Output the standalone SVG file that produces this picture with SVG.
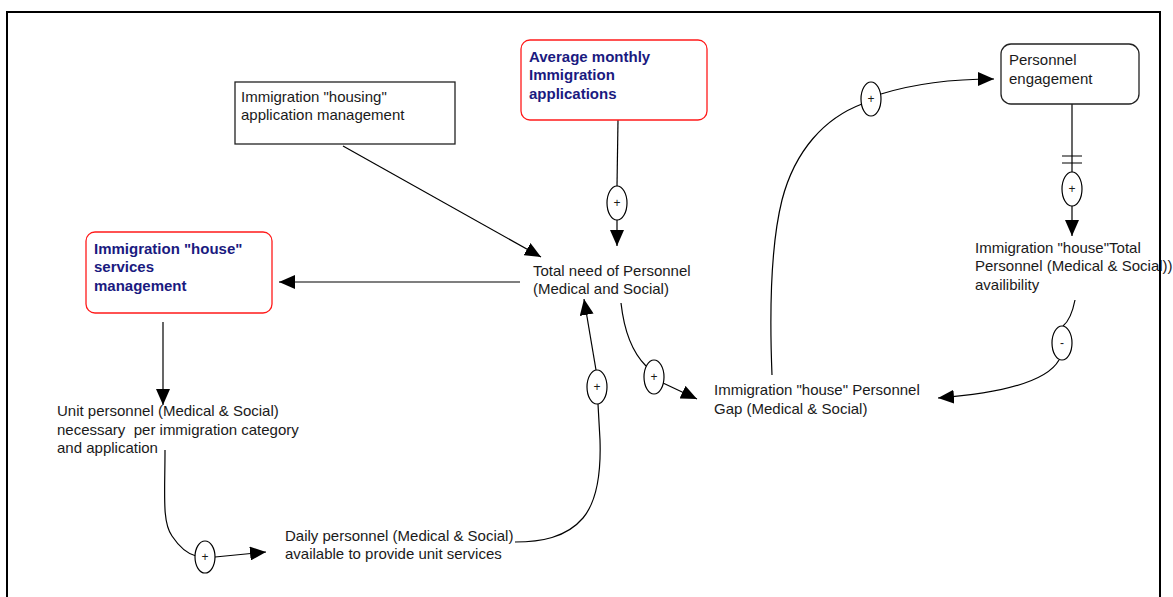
<svg xmlns="http://www.w3.org/2000/svg" width="1173" height="597" viewBox="0 0 1173 597">
<style>
.t{font-family:"Liberation Sans",Arial,sans-serif;font-size:15px;fill:#1a1a1a;white-space:pre}
.b{font-family:"Liberation Sans",Arial,sans-serif;font-size:15px;font-weight:bold;fill:#1a1a80}
.p{font-family:"Liberation Sans",Arial,sans-serif;font-size:12px;fill:#1a1a1a;text-anchor:middle}
.c{fill:none;stroke:#000;stroke-width:1.2}
.e{fill:#fff;stroke:#000;stroke-width:1.2}
.red{fill:#fff;stroke:#ff1a1a;stroke-width:1.3}
.blk{fill:#fff;stroke:#222;stroke-width:1.3}
</style>
<defs>
<marker id="ah" markerUnits="userSpaceOnUse" markerWidth="16" markerHeight="14" refX="16" refY="7" orient="auto" viewBox="0 0 16 14">
<path d="M0,0 L16,7 L0,14 z" fill="#000"/>
</marker>
</defs>
<rect width="1173" height="597" fill="#fff"/>

<g id="connectors">
<path class="c" d="M343,146 L541,257" marker-end="url(#ah)"/>
<path class="c" d="M618,120 L617,186"/>
<path class="c" d="M617,220 L617,246" marker-end="url(#ah)"/>
<path class="c" d="M520,282 L279,282" marker-end="url(#ah)"/>
<path class="c" d="M163,322 L163,405" marker-end="url(#ah)"/>
<path class="c" d="M165,450 C165,495 162,522 172,536 C180,548 188,554 196,556"/>
<path class="c" d="M215,557 L266,552" marker-end="url(#ah)"/>
<path class="c" d="M515,542 C540,542 566,538 583,518 C598,500 601,470 600,440 L598,404"/>
<path class="c" d="M596,370 L584,299" marker-end="url(#ah)"/>
<path class="c" d="M621,303 C624,330 632,352 646,366"/>
<path class="c" d="M663,383 L697,399" marker-end="url(#ah)"/>
<path class="c" d="M772,375 C769,300 772,240 782,200 C795,150 825,118 862,104"/>
<path class="c" d="M881,94 C910,85 950,79 994,79" marker-end="url(#ah)"/>
<path class="c" d="M1072,104 L1072,172"/>
<path class="c" d="M1062,156 L1082,156 M1062,163 L1082,163"/>
<path class="c" d="M1072,206 L1072,236" marker-end="url(#ah)"/>
<path class="c" d="M1075,300 C1072,315 1068,322 1063,326"/>
<path class="c" d="M1059,360 C1045,385 990,394 938,398" marker-end="url(#ah)"/>
<ellipse class="e" cx="617" cy="203" rx="10" ry="17"/><text class="p" x="617" y="207">+</text>
<ellipse class="e" cx="205" cy="557" rx="10" ry="16"/><text class="p" x="205" y="561">+</text>
<ellipse class="e" cx="597" cy="387" rx="10" ry="17"/><text class="p" x="597" y="391">+</text>
<ellipse class="e" cx="654" cy="377" rx="10" ry="17"/><text class="p" x="654" y="381">+</text>
<ellipse class="e" cx="871" cy="99" rx="10" ry="17"/><text class="p" x="871" y="103">+</text>
<ellipse class="e" cx="1072" cy="189" rx="10" ry="17"/><text class="p" x="1072" y="193">+</text>
<ellipse class="e" cx="1062" cy="343" rx="10" ry="17"/><text class="p" x="1062" y="347">-</text>
</g>

<g id="housing-app">
<rect class="blk" x="235" y="82" width="220" height="62"/>
<text class="t" x="241" y="102">Immigration "housing"</text>
<text class="t" x="241" y="120">application management</text>
</g>

<g id="avg-monthly">
<rect class="red" x="521" y="40" width="186" height="80" rx="9"/>
<text class="b" x="529" y="62">Average monthly</text>
<text class="b" x="529" y="80">Immigration</text>
<text class="b" x="529" y="99">applications</text>
</g>

<g id="personnel-engagement">
<rect class="blk" x="1001" y="44" width="138" height="60" rx="10"/>
<text class="t" x="1009" y="65">Personnel</text>
<text class="t" x="1009" y="84">engagement</text>
</g>

<g id="services-mgmt">
<rect class="red" x="86" y="232" width="186" height="81" rx="9"/>
<text class="b" x="94" y="254">Immigration "house"</text>
<text class="b" x="94" y="272">services</text>
<text class="b" x="94" y="291">management</text>
</g>

<g id="total-need">
<text class="t" x="533" y="276">Total need of Personnel</text>
<text class="t" x="533" y="294">(Medical and Social)</text>
</g>

<g id="availability">
<text class="t" x="975" y="253">Immigration "house"Total</text>
<text class="t" x="975" y="271">Personnel (Medical &amp; Social))</text>
<text class="t" x="975" y="290">availibility</text>
</g>

<g id="gap">
<text class="t" x="714" y="395">Immigration "house" Personnel</text>
<text class="t" x="714" y="414">Gap (Medical &amp; Social)</text>
</g>

<g id="unit-personnel">
<text class="t" x="57" y="416">Unit personnel (Medical &amp; Social)</text>
<text class="t" x="57" y="435">necessary  per immigration category</text>
<text class="t" x="57" y="453">and application</text>
</g>

<g id="daily-personnel">
<text class="t" x="285" y="541">Daily personnel (Medical &amp; Social)</text>
<text class="t" x="285" y="559">available to provide unit services</text>
</g>

<rect x="7" y="12" width="1153" height="620" fill="none" stroke="#000" stroke-width="2"/>
</svg>
